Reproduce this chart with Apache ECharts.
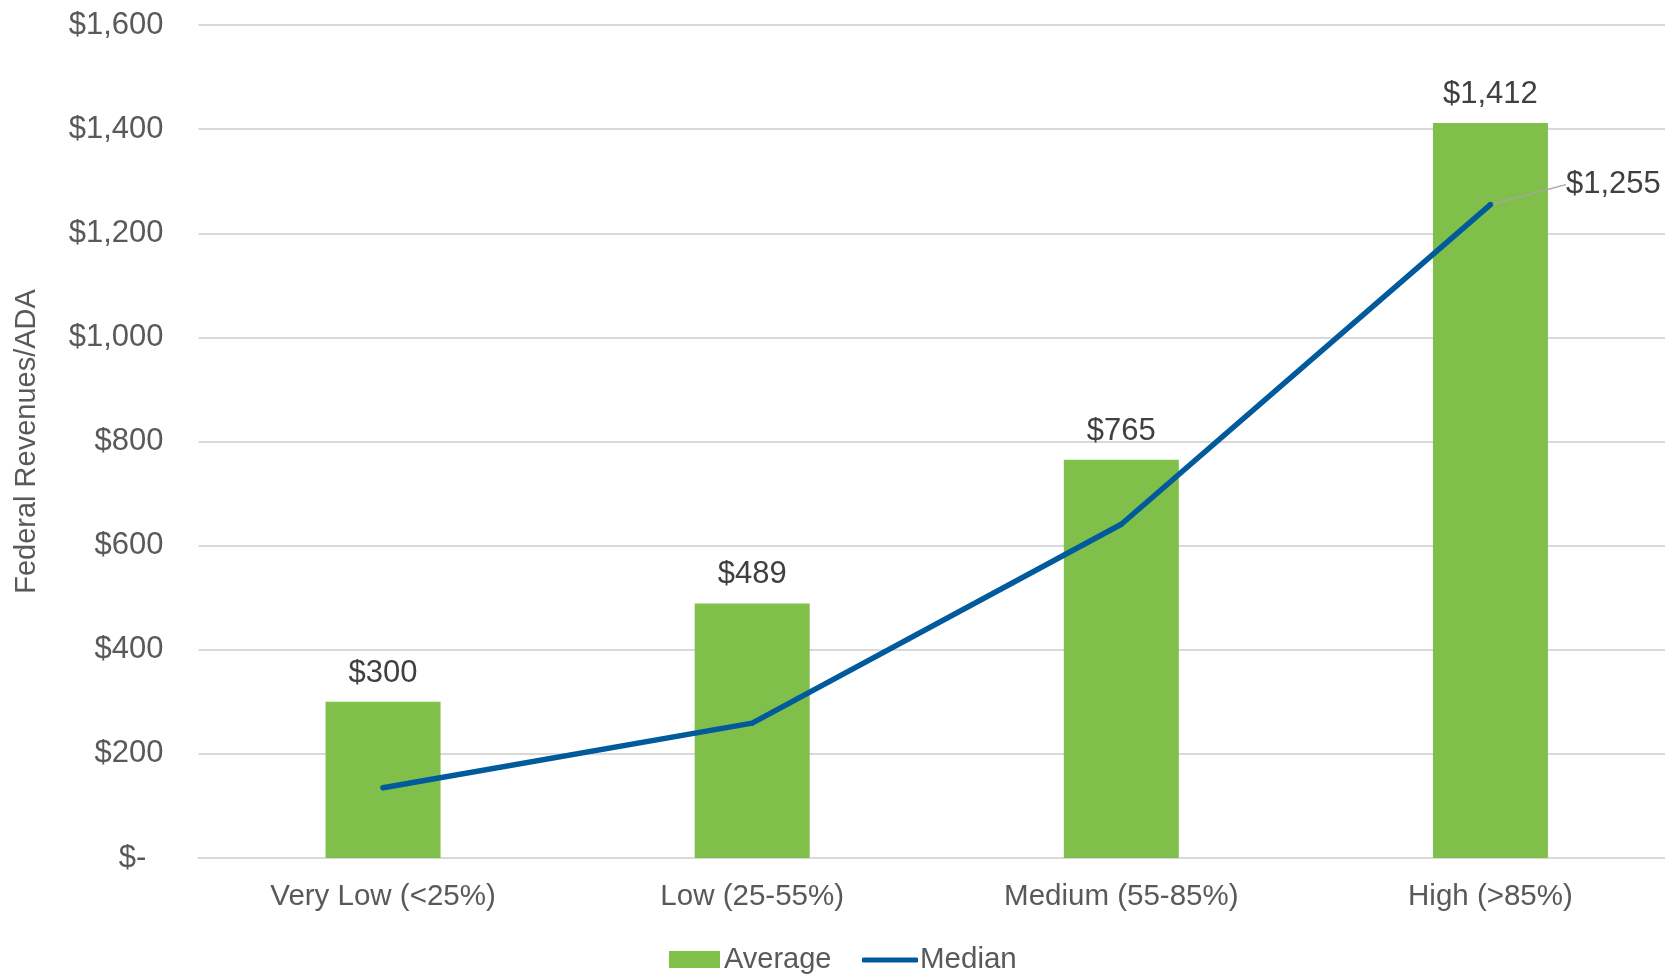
<!DOCTYPE html>
<html>
<head>
<meta charset="utf-8">
<title>Federal Revenues per ADA</title>
<script src="https://cdn.jsdelivr.net/npm/echarts@6/dist/echarts.min.js"></script>
<style>
  html, body { margin: 0; padding: 0; background: #ffffff; }
  #chart { width: 1665px; height: 975px; }
</style>
</head>
<body>
<div id="chart"></div>
<script>
// Poverty bands and federal revenue per ADA
const categories = ['Very Low (<25%)', 'Low (25-55%)', 'Medium (55-85%)', 'High (>85%)'];
const averageValues = [300, 489, 765, 1412];
const medianValues = [135, 259, 641, 1255];
const yTicks = [0, 200, 400, 600, 800, 1000, 1200, 1400, 1600];

const FONT = '"Liberation Sans", Arial, sans-serif';
const GREEN = '#80bf4a';
const BLUE = '#005a9c';
const NUM_SIZE = 31;

function money(v) {
  if (v === 0) return '$-  ';
  return '$' + v.toLocaleString('en-US');
}

const chart = echarts.init(document.getElementById('chart'), null, { renderer: 'canvas' });

const medianData = medianValues.map((v, i) => {
  if (i === medianValues.length - 1) {
    return {
      value: v,
      label: {
        show: true,
        position: 'right',
        distance: 5,
        formatter: p => money(p.value),
        color: '#404040',
        fontSize: NUM_SIZE,
        fontFamily: FONT
      },
      labelLine: { show: true, lineStyle: { color: '#a6a6a6', width: 1.5 } }
    };
  }
  return v;
});

chart.setOption({
  animation: false,
  backgroundColor: '#ffffff',
  textStyle: { fontFamily: FONT },
  grid: {
    left: 198.5, right: -10, top: 25, bottom: 117,
    containLabel: false,
    outerBoundsMode: 'none'
  },
  legend: [
    {
      data: [{ name: 'Average', icon: 'rect' }],
      left: 664, top: 940,
      itemWidth: 51, itemHeight: 17, itemGap: 6,
      textStyle: { color: '#595959', fontSize: 29, fontFamily: FONT, padding: [0, 0, 0, -1] }
    },
    {
      data: [{ name: 'Median', icon: 'roundRect' }],
      left: 857, top: 940,
      itemWidth: 56, itemHeight: 5, itemGap: 6,
      textStyle: { color: '#595959', fontSize: 29.5, fontFamily: FONT, padding: [0, 0, 0, -3] }
    }
  ],
  xAxis: {
    type: 'category',
    data: categories,
    axisTick: { show: false },
    axisLine: { show: true, lineStyle: { color: '#d9d9d9', width: 2 } },
    axisLabel: { color: '#595959', fontSize: 29.5, fontFamily: FONT, margin: 24 }
  },
  yAxis: {
    type: 'value',
    min: yTicks[0],
    max: yTicks[yTicks.length - 1],
    interval: yTicks[1] - yTicks[0],
    name: 'Federal Revenues/ADA',
    nameLocation: 'middle',
    nameGap: 157,
    nameRotate: 90,
    nameTextStyle: { color: '#595959', fontSize: 29, fontFamily: FONT },
    axisLine: { show: false },
    axisTick: { show: false },
    axisLabel: {
      color: '#595959', fontSize: NUM_SIZE, fontFamily: FONT, margin: 35,
      formatter: v => money(v)
    },
    splitLine: { lineStyle: { color: '#d9d9d9', width: 2 } }
  },
  series: [
    {
      name: 'Average',
      type: 'bar',
      data: averageValues,
      barWidth: 115,
      itemStyle: { color: GREEN },
      label: {
        show: true,
        position: 'top',
        distance: 13,
        color: '#404040',
        fontSize: NUM_SIZE,
        fontFamily: FONT,
        formatter: p => money(p.value)
      }
    },
    {
      name: 'Median',
      type: 'line',
      data: medianData,
      symbol: 'circle',
      symbolSize: 5,
      showSymbol: true,
      itemStyle: { color: BLUE },
      lineStyle: { color: BLUE, width: 5.5, cap: 'round', join: 'round' },
      labelLayout: { dx: 68, dy: -20 },
      z: 3
    }
  ]
});
</script>
</body>
</html>
